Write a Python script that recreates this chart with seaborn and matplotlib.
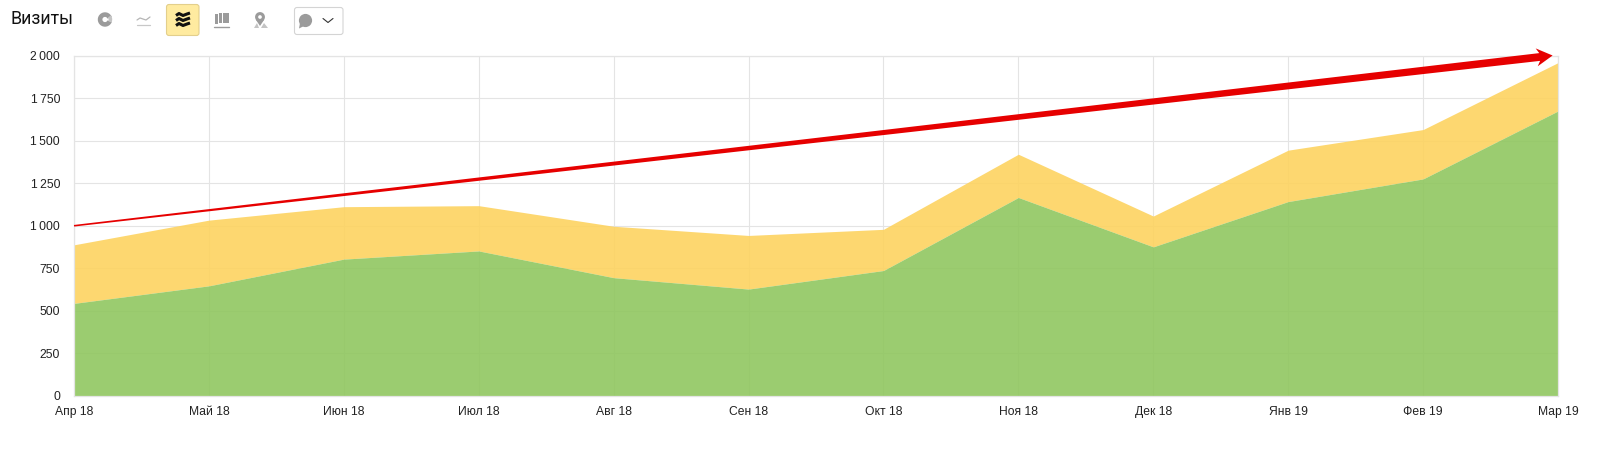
# -*- coding: utf-8 -*-
import numpy as np
import pandas as pd
import seaborn as sns
from matplotlib import pyplot as plt
from matplotlib.patches import Circle, FancyBboxPatch, Polygon, Rectangle, Wedge
from matplotlib.transforms import IdentityTransform

months = ["Апр 18", "Май 18", "Июн 18", "Июл 18", "Авг 18", "Сен 18",
          "Окт 18", "Ноя 18", "Дек 18", "Янв 19", "Фев 19", "Мар 19"]
green_vals = [544, 647, 804, 852, 695, 628, 737, 1166, 876, 1142, 1275, 1674]
total_vals = [888, 1033, 1112, 1118, 997, 943, 979, 1420, 1057, 1444, 1565, 1958]
y_ticks = [0, 250, 500, 750, 1000, 1250, 1500, 1750, 2000]
y_labels = ["0", "250", "500", "750", "1\u2009000", "1\u2009250", "1\u2009500", "1\u2009750", "2\u2009000"]
arrow_start = (0, 1000)
arrow_end = (10.96, 2000)

W, H = 1612, 453
GRID = "#e4e4e4"
GRAY = "#9b9b9b"

sns.set_theme(style="whitegrid")
plt.rcParams["font.family"] = ["Liberation Sans", "DejaVu Sans"]

df = pd.DataFrame({"x": range(len(months)), "green": green_vals, "total": total_vals})

fig = plt.figure(figsize=(W / 100, H / 100), dpi=100, facecolor="white")
ax = fig.add_axes([74 / W, 1 - 396 / H, (1558 - 74) / W, (396 - 55.5) / H])

sns.lineplot(data=df, x="x", y="total", ax=ax, color="#fdd360", linewidth=0)
sns.lineplot(data=df, x="x", y="green", ax=ax, color="#90c760", linewidth=0)
ax.fill_between(df["x"], df["green"], df["total"], color="#fdd360", alpha=0.9, linewidth=0, zorder=2)
ax.fill_between(df["x"], 0, df["green"], color="#90c760", alpha=0.9, linewidth=0, zorder=2)

ax.set_xlim(0, 11)
ax.set_ylim(0, 2000)
ax.set_xticks(df["x"])
ax.set_xticklabels(months)
ax.set_yticks(y_ticks)
ax.set_yticklabels(y_labels)
ax.set_xlabel("")
ax.set_ylabel("")
ax.set_axisbelow(True)
ax.grid(True, color=GRID, linewidth=0.8)
ax.tick_params(axis="both", length=0, labelsize=8.7, labelcolor="#222222")
ax.tick_params(axis="x", pad=7)
ax.tick_params(axis="y", pad=10)
for s in ax.spines.values():
    s.set_color(GRID)
    s.set_linewidth(0.9)

# red hand drawn arrow, widens towards the tip
fig.canvas.draw()
p0 = ax.transData.transform(arrow_start)
p1 = ax.transData.transform(arrow_end)
d = (p1 - p0) / np.linalg.norm(p1 - p0)
n = np.array([-d[1], d[0]])
neck = p1 - d * 13
back = p1 - d * 16
pts = [p0 + n * 0.8, neck + n * 3.9, back + n * 9, p1, back - n * 9, neck - n * 3.9, p0 - n * 0.8]
ax.add_patch(Polygon(pts, closed=True, transform=IdentityTransform(), facecolor="#e60000",
                     edgecolor="none", clip_on=False, zorder=5))

# toolbar in pixel coordinates
bar = fig.add_axes([0, 0, 1, 1], facecolor="none")
bar.set_xlim(0, W)
bar.set_ylim(H, 0)
bar.axis("off")

bar.text(10, 19.5, "Визиты", fontsize=12.8, family=["Roboto", "DejaVu Sans"], color="#111111",
         va="center", ha="left")

# pie
bar.add_patch(Wedge((105, 19.5), 7.2, 20, 340, width=4.6, color=GRAY, linewidth=0))
bar.add_patch(Wedge((105, 19.5), 7.2, -35, 25, width=3.6, color="#c4c4c4", linewidth=0))

# line icon
bar.plot([137, 140, 143, 146, 150], [20, 18, 19, 20, 17], color="#b5b5b5", lw=0.9)
bar.plot([137, 150], [24.5, 24.5], color="#c8c8c8", lw=0.9)

# active area button
bar.add_patch(FancyBboxPatch((166.5, 4.5), 32.5, 31, boxstyle="round,pad=0,rounding_size=2.5",
                             facecolor="#ffeba0", edgecolor="#e3cf8c", linewidth=0.8))
for yy in [14.5, 19.5, 24.5]:
    bar.plot([176, 179, 183, 187, 190], [yy + 1, yy - 1, yy + 1, yy - 0.5, yy - 1.5],
             color="#111111", lw=2.2, solid_capstyle="butt")

# bars icon
for xx, top in [(216, 14), (220, 13), (224, 13), (227.5, 13)]:
    bar.add_patch(Rectangle((xx - 1.5, top), 3, 9.5, color=GRAY, linewidth=0))
bar.plot([214, 229], [26.5, 26.5], color=GRAY, lw=1)

# map pin
bar.add_patch(Circle((260, 17), 3.4, facecolor="none", edgecolor=GRAY, linewidth=2.2))
bar.add_patch(Polygon([(256, 20), (264, 20), (260, 26)], color=GRAY, linewidth=0))
bar.add_patch(Polygon([(254, 28), (257, 23), (259, 28)], color="#c4c4c4", linewidth=0))
bar.add_patch(Polygon([(261, 28), (264, 23), (268, 28)], color="#c4c4c4", linewidth=0))

# comments dropdown
bar.add_patch(FancyBboxPatch((294.5, 7.5), 48.5, 27, boxstyle="round,pad=0,rounding_size=2.5",
                             facecolor="white", edgecolor="#d4d4d4", linewidth=0.8))
bar.add_patch(Circle((305.5, 20.5), 6.6, color=GRAY, linewidth=0))
bar.add_patch(Polygon([(300, 23), (304, 26), (299, 28.5)], color=GRAY, linewidth=0))
bar.plot([323, 328, 333], [18.5, 22.5, 18.5], color="#333333", lw=0.8)

fig.savefig("out.png", dpi=100)
